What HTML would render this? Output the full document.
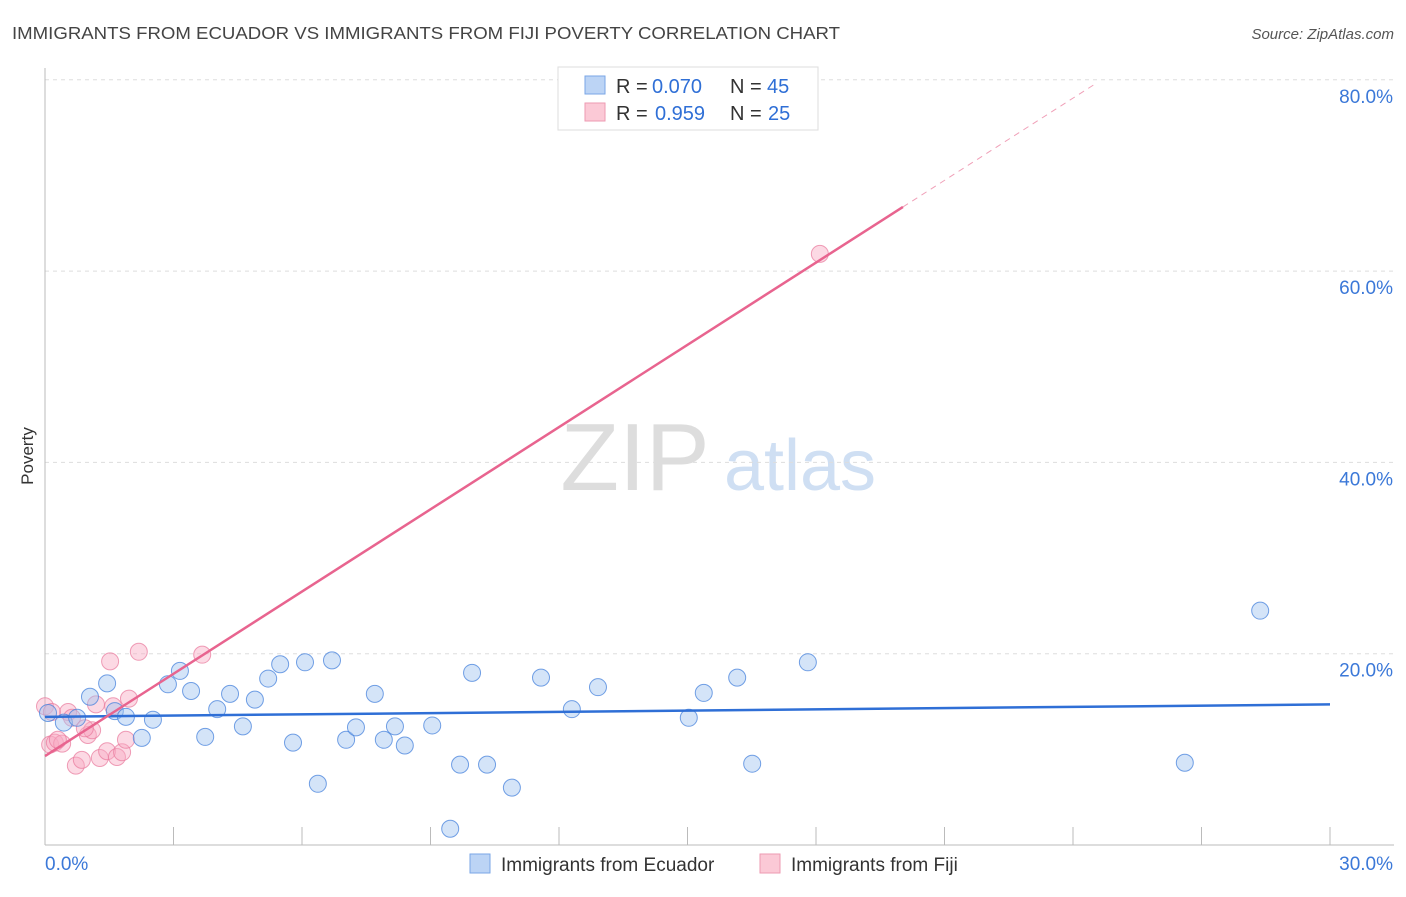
<!DOCTYPE html>
<html><head><meta charset="utf-8"><style>
body{margin:0;background:#fff;font-family:"Liberation Sans",sans-serif;}
svg text{font-family:"Liberation Sans",sans-serif;}
</style></head><body>
<svg id="chart" width="1406" height="892" xmlns="http://www.w3.org/2000/svg">
<text x="12" y="39" font-size="17.5" fill="#444" textLength="828" lengthAdjust="spacingAndGlyphs">IMMIGRANTS FROM ECUADOR VS IMMIGRANTS FROM FIJI POVERTY CORRELATION CHART</text>
<text x="1394" y="39" font-size="15" fill="#555" font-style="italic" text-anchor="end">Source: ZipAtlas.com</text>
<text transform="translate(33,456) rotate(-90)" font-size="17" fill="#333" text-anchor="middle">Poverty</text>
<g><text x="635" y="490" font-size="96" fill="#ddd" font-family="Liberation Serif" text-anchor="middle">ZIP</text><text x="800" y="490" font-size="72" fill="#cfdff3" text-anchor="middle">atlas</text></g>
<g id="grid"></g><g id="axes"></g><g id="marks"></g>
<g>
<rect x="558" y="67" width="260" height="63" fill="#fff" stroke="#ddd"/>
<rect x="585" y="76" width="20" height="18" fill="#bcd4f5" stroke="#7aa6e6"/>
<rect x="585" y="103" width="20" height="18" fill="#fbc9d6" stroke="#ee9ab2"/>
<text x="616" y="93" font-size="20" fill="#333">R =</text>
<text x="652" y="93" font-size="20" fill="#2f6fd6">0.070</text>
<text x="730" y="93" font-size="20" fill="#333">N =</text>
<text x="767" y="93" font-size="20" fill="#2f6fd6">45</text>
<text x="616" y="120" font-size="20" fill="#333">R =</text>
<text x="655" y="120" font-size="20" fill="#2f6fd6">0.959</text>
<text x="730" y="120" font-size="20" fill="#333">N =</text>
<text x="768" y="120" font-size="20" fill="#2f6fd6">25</text>
</g>
<g>
<rect x="470" y="854" width="20" height="19" fill="#bcd4f5" stroke="#7aa6e6"/>
<text x="501" y="871" font-size="19" fill="#333">Immigrants from Ecuador</text>
<rect x="760" y="854" width="20" height="19" fill="#fbc9d6" stroke="#ee9ab2"/>
<text x="791" y="871" font-size="19" fill="#333">Immigrants from Fiji</text>
</g>
</svg>
<script>
const ecuadorX=[0.07,0.44,0.75,1.05,1.45,1.63,1.89,2.26,2.52,2.87,3.15,3.41,3.74,4.02,4.32,4.62,4.90,5.21,5.49,5.79,6.07,6.37,6.70,7.03,7.26,7.70,7.91,8.17,8.40,9.04,9.46,9.69,9.97,10.32,10.90,11.58,12.30,12.91,15.03,15.38,16.16,16.51,17.81,26.61,28.37];
const ecuadorY=[13.8,12.8,13.3,15.5,16.9,14.0,13.4,11.2,13.1,16.8,18.2,16.1,11.3,14.2,15.8,12.4,15.2,17.4,18.9,10.7,19.1,6.4,19.3,11.0,12.3,15.8,11.0,12.4,10.4,12.5,1.7,8.4,18.0,8.4,6.0,17.5,14.2,16.5,13.3,15.9,17.5,8.5,19.1,8.6,24.5];
const fijiX=[0,0.12,0.23,0.40,0.54,0.72,0.86,1.00,1.19,1.28,1.45,1.52,1.59,1.68,1.80,1.89,1.96,2.19,3.67,18.09,0.63,0.30,1.10,0.93,0.16];
const fijiY=[14.5,10.5,10.7,10.6,13.9,8.3,8.9,11.5,14.7,9.1,9.8,19.2,14.5,9.2,9.7,11.0,15.3,20.2,19.9,61.8,13.3,11.0,12.0,12.2,13.9];
const ecuadorTrend=[13.4,14.7]; // y at x=0 and x=30
const fijiTrend=[9.3,2.866]; // intercept, slope
const yTicks=[20,40,60,80];
const yTickLabels=["20.0%","40.0%","60.0%","80.0%"];
const xTicks=[0,3,6,9,12,15,18,21,24,27,30];
const xEndLabels=["0.0%","30.0%"];

const NS="http://www.w3.org/2000/svg";
const sx=v=>45+v/30*1285, sy=v=>845-v/20*191.3;
function mk(p,t,a){const e=document.createElementNS(NS,t);for(const k in a)e.setAttribute(k,a[k]);p.appendChild(e);return e;}
const grid=document.getElementById('grid'),axes=document.getElementById('axes'),marks=document.getElementById('marks');
yTicks.forEach((t,i)=>{
 const l=mk(grid,'line',{x1:45,x2:1394,y1:sy(t),y2:sy(t),stroke:'#ddd','stroke-dasharray':'4,4'});
 
 
 const tx=mk(axes,'text',{x:1393,y:sy(t)+23,'font-size':19,fill:'#3b78d8','text-anchor':'end'});tx.textContent=yTickLabels[i];
 
 
});
const ax=mk(axes,'line',{x1:45,x2:1394,y1:845,y2:845,stroke:'#bbb'});


const ay=mk(axes,'line',{x1:45,x2:45,y1:68,y2:845,stroke:'#bbb'});


xTicks.forEach(t=>{const l=mk(axes,'line',{x1:sx(t),x2:sx(t),y1:827,y2:845,stroke:'#bbb'});
 
 });
[[0,'start',45],[1,'end',1393]].forEach(([i,a,x])=>{const t=mk(axes,'text',{x:x,y:870,'font-size':19,fill:'#3b78d8','text-anchor':a});t.textContent=xEndLabels[i];
 
 });
fijiX.forEach((x,i)=>{const c=mk(marks,'circle',{cx:sx(x),cy:sy(fijiY[i]),r:8.5,fill:'rgba(248,170,195,0.45)',stroke:'rgba(232,120,155,0.7)','stroke-width':1});
 
 });
ecuadorX.forEach((x,i)=>{const c=mk(marks,'circle',{cx:sx(x),cy:sy(ecuadorY[i]),r:8.5,fill:'rgba(160,195,240,0.45)',stroke:'rgba(70,130,220,0.75)','stroke-width':1});
 
 });
const el=mk(marks,'line',{x1:sx(0),y1:sy(ecuadorTrend[0]),x2:sx(30),y2:sy(ecuadorTrend[1]),stroke:'#2f6fd6','stroke-width':2.5});


const fy=x=>fijiTrend[0]+fijiTrend[1]*x;
const fl=mk(marks,'line',{x1:sx(0),y1:sy(fy(0)),x2:sx(20.03),y2:sy(fy(20.03)),stroke:'#e8648f','stroke-width':2.5});


const fd=mk(marks,'line',{x1:sx(20.03),y1:sy(fy(20.03)),x2:sx(24.5),y2:sy(fy(24.5)),stroke:'#f0a0b8','stroke-width':1,'stroke-dasharray':'6,5'});


</script>
</body></html>
